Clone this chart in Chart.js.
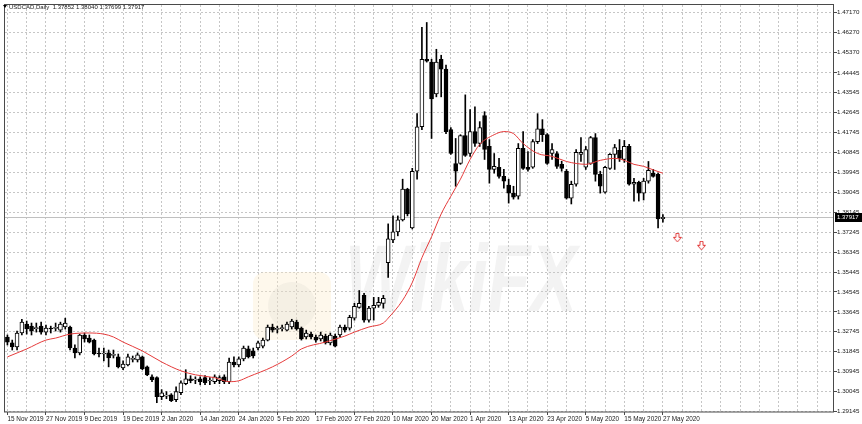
<!DOCTYPE html>
<html>
<head>
<meta charset="utf-8">
<title>USDCAD Daily</title>
<script src="https://cdn.jsdelivr.net/npm/chart.js@4.4.0/dist/chart.umd.min.js"></script>
<style>
  html, body { margin: 0; padding: 0; background: #fff; }
  canvas { display: block; }
</style>
</head>
<body>
<canvas id="chart" width="862" height="424"></canvas>
<script>
// USDCAD daily candles, 15 Nov 2019 .. 27 May 2020
const openV = [
  1.3251, 1.3224, 1.3206, 1.3269, 1.3309, 1.3300, 1.3289, 1.3300, 1.3273, 1.3288,
  1.3290, 1.3282, 1.3296, 1.3296, 1.3201, 1.3179, 1.3260, 1.3246, 1.3237, 1.3176,
  1.3174, 1.3179, 1.3168, 1.3161, 1.3111, 1.3125, 1.3150, 1.3147, 1.3161, 1.3116,
  1.3071, 1.3067, 1.2981, 1.2984, 1.2990, 1.2968, 1.2999, 1.3040, 1.3062, 1.3056,
  1.3062, 1.3067, 1.3052, 1.3049, 1.3053, 1.3071, 1.3049, 1.3138, 1.3125, 1.3152,
  1.3197, 1.3188, 1.3201, 1.3210, 1.3237, 1.3296, 1.3285, 1.3289, 1.3282, 1.3296,
  1.3318, 1.3291, 1.3251, 1.3264, 1.3251, 1.3242, 1.3255, 1.3224, 1.3255, 1.3260,
  1.3296, 1.3291, 1.3336, 1.3385, 1.3439, 1.3327, 1.3381, 1.3394, 1.3403, 1.3587,
  1.3690, 1.3726, 1.3780, 1.3919, 1.3744, 1.4000, 1.4201, 1.4506, 1.4493, 1.4349,
  1.4506, 1.4461, 1.4188, 1.4035, 1.4035, 1.4161, 1.4080, 1.4179, 1.4125, 1.4251,
  1.4112, 1.4008, 1.4018, 1.3977, 1.3937, 1.3901, 1.3887, 1.4103, 1.4018, 1.4018,
  1.4134, 1.4192, 1.4165, 1.4080, 1.4080, 1.4031, 1.4000, 1.3878, 1.3941, 1.4076,
  1.4018, 1.4035, 1.4152, 1.3986, 1.3905, 1.4013, 1.4076, 1.4094, 1.4053, 1.4112,
  1.3941, 1.3950, 1.3901, 1.3955, 1.3991, 1.3986, 1.37852
];
const highV = [
  1.3260, 1.3237, 1.3278, 1.3331, 1.3323, 1.3314, 1.3314, 1.3318, 1.3305, 1.3300,
  1.3314, 1.3318, 1.3336, 1.3300, 1.3215, 1.3264, 1.3269, 1.3260, 1.3242, 1.3201,
  1.3201, 1.3192, 1.3192, 1.3174, 1.3143, 1.3174, 1.3165, 1.3179, 1.3165, 1.3120,
  1.3080, 1.3071, 1.3013, 1.3004, 1.2995, 1.3026, 1.3053, 1.3103, 1.3076, 1.3071,
  1.3071, 1.3076, 1.3067, 1.3080, 1.3076, 1.3080, 1.3156, 1.3161, 1.3161, 1.3210,
  1.3210, 1.3201, 1.3233, 1.3246, 1.3305, 1.3309, 1.3300, 1.3305, 1.3318, 1.3331,
  1.3327, 1.3296, 1.3282, 1.3273, 1.3260, 1.3273, 1.3264, 1.3269, 1.3264, 1.3305,
  1.3305, 1.3349, 1.3403, 1.3461, 1.3448, 1.3390, 1.3430, 1.3430, 1.3439, 1.3762,
  1.3798, 1.3798, 1.3964, 1.3923, 1.4013, 1.4260, 1.4650, 1.4672, 1.4506, 1.4551,
  1.4524, 1.4479, 1.4197, 1.4148, 1.4165, 1.4345, 1.4278, 1.4291, 1.4224, 1.4269,
  1.4143, 1.4080, 1.4058, 1.4008, 1.3964, 1.3932, 1.4125, 1.4179, 1.4089, 1.4143,
  1.4260, 1.4233, 1.4170, 1.4125, 1.4089, 1.4045, 1.4008, 1.3955, 1.4098, 1.4152,
  1.4112, 1.4157, 1.4170, 1.4000, 1.4022, 1.4080, 1.4121, 1.4143, 1.4139, 1.4121,
  1.3968, 1.3955, 1.3968, 1.4044, 1.4008, 1.3991, 1.38040
];
const lowV = [
  1.3215, 1.3192, 1.3192, 1.3260, 1.3264, 1.3260, 1.3273, 1.3264, 1.3260, 1.3269,
  1.3278, 1.3273, 1.3287, 1.3192, 1.3156, 1.3170, 1.3228, 1.3224, 1.3170, 1.3161,
  1.3143, 1.3116, 1.3156, 1.3111, 1.3103, 1.3120, 1.3138, 1.3138, 1.3103, 1.3076,
  1.3049, 1.2954, 1.2968, 1.2972, 1.2959, 1.2959, 1.2990, 1.3035, 1.3044, 1.3040,
  1.3035, 1.3035, 1.3035, 1.3040, 1.3040, 1.3040, 1.3040, 1.3116, 1.3116, 1.3143,
  1.3156, 1.3156, 1.3192, 1.3201, 1.3233, 1.3273, 1.3269, 1.3278, 1.3278, 1.3287,
  1.3282, 1.3237, 1.3242, 1.3242, 1.3228, 1.3233, 1.3219, 1.3215, 1.3206, 1.3251,
  1.3273, 1.3282, 1.3327, 1.3381, 1.3318, 1.3318, 1.3327, 1.3385, 1.3381, 1.3520,
  1.3677, 1.3708, 1.3775, 1.3798, 1.3739, 1.3964, 1.4188, 1.4493, 1.4148, 1.4336,
  1.4336, 1.4170, 1.4076, 1.3932, 1.4031, 1.4067, 1.4067, 1.4112, 1.4112, 1.4053,
  1.3946, 1.3991, 1.3968, 1.3923, 1.3856, 1.3874, 1.3874, 1.4008, 1.4000, 1.4013,
  1.4125, 1.4134, 1.4031, 1.4053, 1.4013, 1.4000, 1.3874, 1.3852, 1.3932, 1.4044,
  1.4008, 1.4031, 1.3955, 1.3901, 1.3901, 1.4008, 1.4008, 1.4044, 1.4040, 1.3937,
  1.3865, 1.3865, 1.3870, 1.3946, 1.3973, 1.3744, 1.37699
];
const closeV = [
  1.3228, 1.3206, 1.3269, 1.3318, 1.3287, 1.3278, 1.3291, 1.3273, 1.3291, 1.3287,
  1.3292, 1.3309, 1.3314, 1.3201, 1.3179, 1.3260, 1.3242, 1.3228, 1.3174, 1.3174,
  1.3176, 1.3156, 1.3170, 1.3116, 1.3129, 1.3161, 1.3152, 1.3170, 1.3107, 1.3080,
  1.3058, 1.2981, 1.2999, 1.2986, 1.2963, 1.3004, 1.3044, 1.3062, 1.3053, 1.3058,
  1.3049, 1.3044, 1.3054, 1.3071, 1.3067, 1.3049, 1.3138, 1.3125, 1.3152, 1.3201,
  1.3161, 1.3165, 1.3224, 1.3237, 1.3296, 1.3282, 1.3287, 1.3291, 1.3309, 1.3323,
  1.3287, 1.3242, 1.3269, 1.3251, 1.3237, 1.3260, 1.3224, 1.3260, 1.3210, 1.3296,
  1.3282, 1.3340, 1.3390, 1.3403, 1.3327, 1.3381, 1.3394, 1.3408, 1.3426, 1.3695,
  1.3726, 1.3780, 1.3919, 1.3807, 1.4000, 1.4201, 1.4506, 1.4497, 1.4327, 1.4493,
  1.4461, 1.4179, 1.4080, 1.4000, 1.4161, 1.4071, 1.4179, 1.4125, 1.4197, 1.4098,
  1.4008, 1.4022, 1.3977, 1.3955, 1.3901, 1.3883, 1.4103, 1.4013, 1.4008, 1.4134,
  1.4192, 1.4165, 1.4035, 1.4098, 1.4022, 1.4013, 1.3878, 1.3941, 1.4085, 1.4085,
  1.4098, 1.4152, 1.3986, 1.3932, 1.4018, 1.4076, 1.4107, 1.4058, 1.4112, 1.3941,
  1.3950, 1.3901, 1.3955, 1.4004, 1.3977, 1.3784, 1.37917
];

// red moving average, read at these bars
const maBars = [0, 4, 8, 10, 13, 17, 20, 22, 24, 28, 32, 36, 39, 43, 46, 48, 50, 55, 59, 61,
  66, 70, 72, 75, 78, 79, 82, 84, 86, 88, 90, 92, 94, 96, 98, 101, 103, 105, 107, 110,
  113, 116, 118, 120, 123, 126, 128, 130, 132, 134, 136];
const maValues = [1.3161, 1.3197, 1.3237, 1.3246, 1.3264, 1.3269, 1.3264, 1.3251, 1.3228, 1.3188,
  1.3138, 1.3098, 1.3080, 1.3067, 1.3049, 1.3053, 1.3071, 1.3116, 1.3165, 1.3197,
  1.3228, 1.3255, 1.3273, 1.3296, 1.3314, 1.3336, 1.3417, 1.3497, 1.3609, 1.3704,
  1.3807, 1.3887, 1.3964, 1.4053, 1.4121, 1.4165, 1.4179, 1.4170, 1.4125, 1.4080,
  1.4067, 1.4044, 1.4035, 1.4031, 1.4049, 1.4058, 1.4049, 1.4031, 1.4022, 1.4006,
  1.3991];

// two arrow objects placed ahead of the last bar
const arrowBars = [139, 144];
const arrowValues = [1.3699, 1.3663];

// date labels, one every 8 bars
const dayLabels = ['15 Nov 2019', '27 Nov 2019', '9 Dec 2019', '19 Dec 2019', '2 Jan 2020',
  '14 Jan 2020', '24 Jan 2020', '5 Feb 2020', '17 Feb 2020', '27 Feb 2020', '10 Mar 2020',
  '20 Mar 2020', '1 Apr 2020', '13 Apr 2020', '23 Apr 2020', '5 May 2020', '15 May 2020',
  '27 May 2020'];
const labelEvery = 8;
const futureBars = 35;

const priceTicks = [1.29145, 1.30045, 1.30945, 1.31845, 1.32745, 1.33645, 1.34545, 1.35445,
  1.36345, 1.37245, 1.38145, 1.39045, 1.39945, 1.40845, 1.41745, 1.42645, 1.43545, 1.44445,
  1.45370, 1.46270, 1.47170];

const titleText = 'USDCAD,Daily  1.37852 1.38040 1.37699 1.37917';

const barCount = closeV.length;
const categories = [];
for (let i = 0; i < barCount + futureBars; i++) categories.push(String(i));

const bodies = openV.map((o, i) => [Math.min(o, closeV[i]), Math.max(o, closeV[i])]);
const wicks = lowV.map((l, i) => [l, highV[i]]);

const maData = new Array(barCount).fill(null);
maBars.forEach((b, k) => { maData[b] = maValues[k]; });

const arrowData = new Array(barCount + futureBars).fill(null);
arrowBars.forEach((b, k) => { arrowData[b] = arrowValues[k]; });

const gridColor = '#c6c6c6';
const textColor = '#1a1a1a';
const fontFamily = '"Liberation Sans", Arial, sans-serif';

Chart.defaults.font.family = fontFamily;

// outlined down arrow used as the point style
function makeArrow() {
  const c = document.createElement('canvas');
  c.width = 9;
  c.height = 10;
  const g = c.getContext('2d');
  g.beginPath();
  g.moveTo(3, 0.5);
  g.lineTo(6, 0.5);
  g.lineTo(6, 4.5);
  g.lineTo(8.5, 4.5);
  g.lineTo(4.5, 9);
  g.lineTo(0.5, 4.5);
  g.lineTo(3, 4.5);
  g.closePath();
  g.fillStyle = '#fff';
  g.fill();
  g.strokeStyle = '#e23a3a';
  g.lineWidth = 1;
  g.stroke();
  return c;
}

// watermark, current price line, frame, title and price box
const terminalDecor = {
  id: 'terminalDecor',
  beforeDatasetsDraw(chart) {
    const { ctx, chartArea: a, scales: { y } } = chart;
    ctx.save();

    // faint watermark
    ctx.fillStyle = 'rgba(252, 236, 200, 0.35)';
    ctx.beginPath();
    ctx.roundRect(253, 272, 78, 68, 12);
    ctx.fill();
    ctx.fillStyle = 'rgba(215, 210, 200, 0.22)';
    ctx.beginPath();
    ctx.arc(292, 306, 24, 0, Math.PI * 2);
    ctx.fill();
    ctx.font = 'bold italic 90px "Liberation Sans", Arial, sans-serif';
    const w = ctx.measureText('WikiFX').width;
    ctx.translate(345, 311);
    ctx.scale(232 / w, 1.05);
    ctx.fillStyle = 'rgba(205, 205, 205, 0.24)';
    ctx.fillText('WikiFX', 0, 0);
    ctx.setTransform(1, 0, 0, 1, 0, 0);

    // current price line
    const py = Math.round(y.getPixelForValue(closeV[barCount - 1])) + 0.5;
    ctx.strokeStyle = '#c0c0c0';
    ctx.lineWidth = 1;
    ctx.beginPath();
    ctx.moveTo(a.left, py);
    ctx.lineTo(a.right, py);
    ctx.stroke();
    ctx.restore();
  },
  afterDraw(chart) {
    const { ctx, chartArea: a, scales: { y } } = chart;
    ctx.save();

    // frame
    ctx.strokeStyle = '#4a4a4a';
    ctx.lineWidth = 1;
    ctx.strokeRect(a.left - 0.5, a.top - 0.5, a.right - a.left, a.bottom - a.top + 0.5);

    // title
    ctx.fillStyle = '#000';
    ctx.beginPath();
    ctx.moveTo(3, 5);
    ctx.lineTo(7, 5);
    ctx.lineTo(5, 8);
    ctx.closePath();
    ctx.fill();
    ctx.font = '6px ' + fontFamily;
    ctx.fillStyle = textColor;
    ctx.textBaseline = 'middle';
    ctx.fillText(titleText, 9, 7);

    // last price box on the axis
    const last = closeV[barCount - 1];
    const py = Math.round(y.getPixelForValue(last));
    ctx.fillStyle = '#000';
    ctx.fillRect(a.right + 1, py - 4, 862 - a.right - 1, 9);
    ctx.fillStyle = '#fff';
    ctx.fillText(last.toFixed(5), a.right + 3, py + 0.5);
    ctx.restore();
  }
};

new Chart(document.getElementById('chart'), {
  type: 'bar',
  data: {
    labels: categories,
    datasets: [
      {
        type: 'line',
        label: 'MA',
        data: maData,
        borderColor: '#e53b3b',
        borderWidth: 1,
        pointRadius: 0,
        spanGaps: true,
        cubicInterpolationMode: 'monotone',
        order: 0
      },
      {
        type: 'line',
        label: 'arrows',
        data: arrowData,
        showLine: false,
        pointStyle: makeArrow(),
        pointRadius: 4,
        order: 0
      },
      {
        label: 'body',
        data: bodies,
        backgroundColor: ctx => closeV[ctx.dataIndex] >= openV[ctx.dataIndex] ? '#fff' : '#000',
        borderColor: '#000',
        borderWidth: 1,
        borderSkipped: false,
        barThickness: 4,
        minBarLength: 1,
        grouped: false,
        order: 1
      },
      {
        label: 'wick',
        data: wicks,
        backgroundColor: '#000',
        borderWidth: 0,
        barThickness: 1,
        grouped: false,
        order: 2
      }
    ]
  },
  options: {
    responsive: false,
    animation: false,
    devicePixelRatio: 1,
    layout: { padding: { top: 2, left: 1, right: 0, bottom: 0 } },
    plugins: {
      legend: { display: false },
      tooltip: { enabled: false }
    },
    scales: {
      x: {
        offset: true,
        grid: {
          offset: false,
          color: ctx => ctx.index % 4 === 0 ? gridColor : 'rgba(0,0,0,0)',
          tickLength: 3,
          tickColor: ctx => (ctx.index % labelEvery === 0 && ctx.index < barCount) ? '#4a4a4a' : 'rgba(0,0,0,0)'
        },
        border: { display: false, dash: [2, 2] },
        ticks: {
          autoSkip: false,
          maxRotation: 0,
          minRotation: 0,
          align: 'start',
          padding: 0,
          color: textColor,
          font: { size: 6.4 },
          callback: (v, i) => i % labelEvery === 0 ? (dayLabels[i / labelEvery] || '') : ''
        },
        afterFit: s => { s.height = 12; s.paddingLeft = 0; s.paddingRight = 0; }
      },
      y: {
        position: 'right',
        min: 1.2912,
        max: 1.4751,
        afterBuildTicks: s => { s.ticks = priceTicks.map(v => ({ value: v })); },
        grid: {
          color: gridColor,
          tickLength: 3,
          tickColor: '#4a4a4a'
        },
        border: { display: false, dash: [2, 2] },
        ticks: {
          padding: 0,
          color: textColor,
          font: { size: 6.2 },
          callback: v => v.toFixed(5)
        },
        afterFit: s => { s.width = 28; s.paddingTop = 0; s.paddingBottom = 0; }
      }
    }
  },
  plugins: [terminalDecor]
});
</script>
</body>
</html>
